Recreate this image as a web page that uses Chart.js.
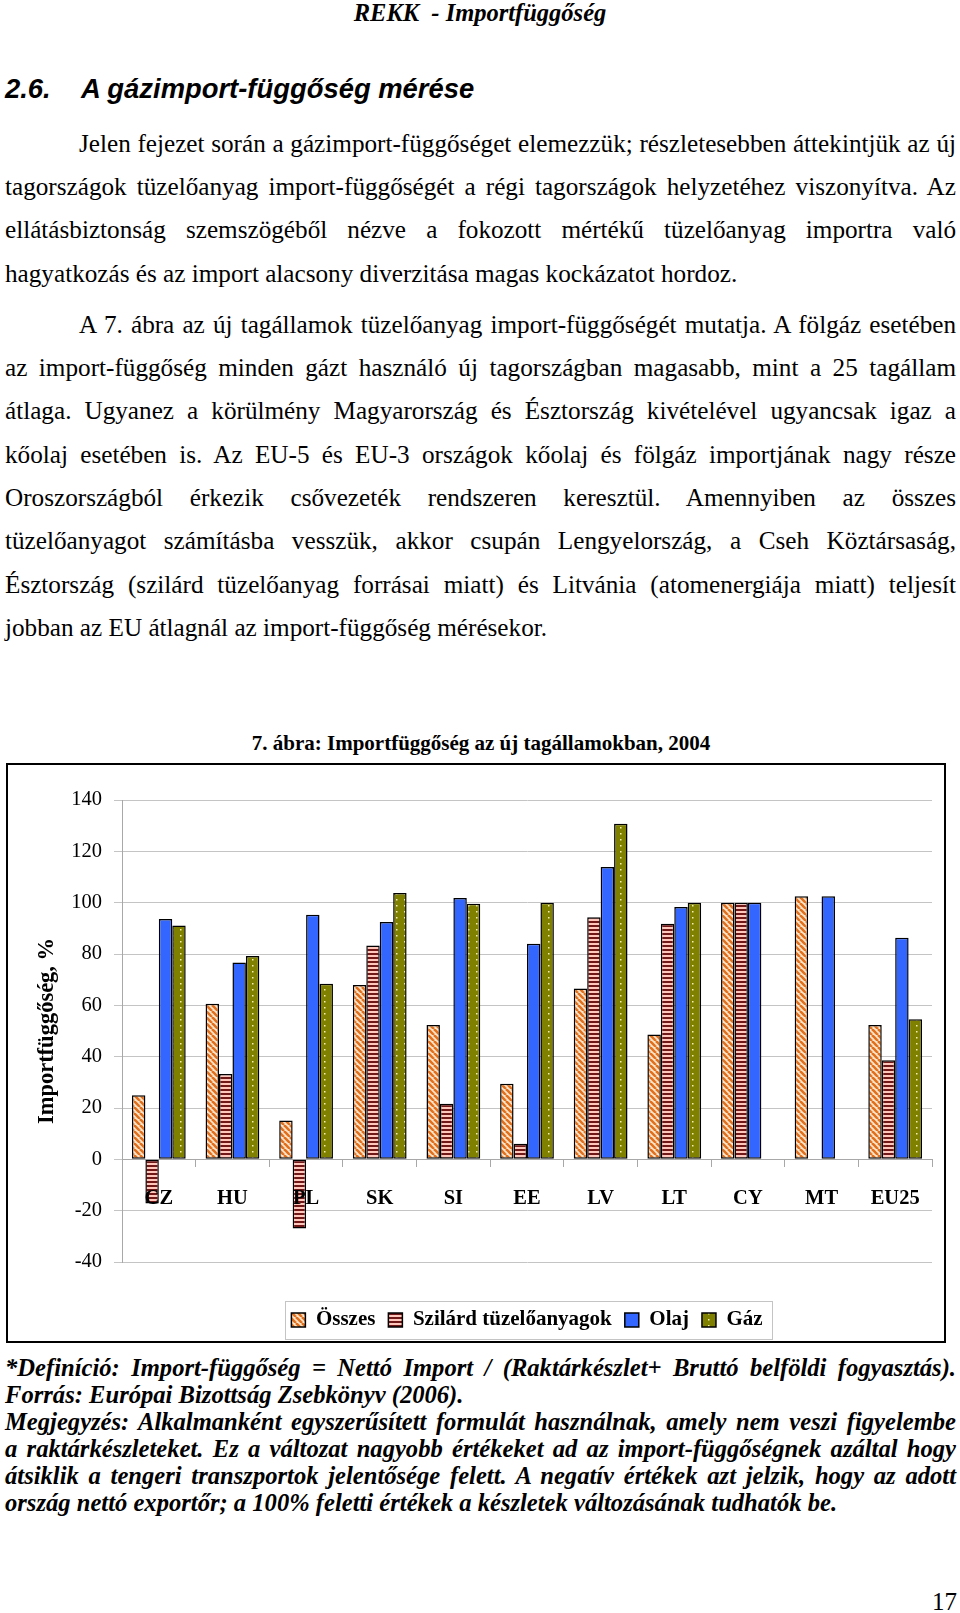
<!DOCTYPE html>
<html>
<head>
<meta charset="utf-8">
<script src="https://cdn.jsdelivr.net/npm/chart.js@4.4.1/dist/chart.umd.min.js"></script>
<style>
html, body { margin: 0; padding: 0; background: #fff; }
body { width: 960px; height: 1613px; position: relative; overflow: hidden; font-family: "Liberation Serif", "Times New Roman", serif; color: #000; }
.abs { position: absolute; }
#hdr { left: 0; width: 960px; top: 1px; text-align: center; font: italic bold 24.5px/24px "Liberation Serif"; }
#h2 { left: 5px; top: 75px; width: 600px; font: italic bold 27.4px/27px "Liberation Sans"; white-space: nowrap; }
#h2 .t { position: absolute; left: 76px; top: 0; }
.par { left: 5px; width: 951px; font-size: 25.2px; line-height: 43.33px; }
.ln { text-align: justify; text-align-last: justify; }
.ln.last { text-align-last: left; }
.ln.ind { padding-left: 74px; }
#cap { left: 0; width: 962px; top: 733px; text-align: center; font: bold 21px/21px "Liberation Serif"; }
#box { left: 6px; top: 763px; width: 940px; height: 580px; border: 2.5px solid #000; box-sizing: border-box; }
#wrap { left: 8px; top: 765px; width: 936px; height: 576px; }
#notes { left: 5px; width: 951px; top: 1354px; font: italic bold 24.6px/27px "Liberation Serif"; }
#pg { right: 3px; top: 1589px; font: 25px/25px "Liberation Serif"; }
</style>
</head>
<body>
<div id="hdr" class="abs">REKK&nbsp; - Importfüggőség</div>
<div id="h2" class="abs">2.6.<span class="t">A gázimport-függőség mérése</span></div>

<div class="abs par" style="top:121.6px">
  <div class="ln ind"><span>Jelen fejezet során a gázimport-függőséget elemezzük; részletesebben áttekintjük az új</span></div>
  <div class="ln"><span>tagországok tüzelőanyag import-függőségét a régi tagországok helyzetéhez viszonyítva. Az</span></div>
  <div class="ln"><span>ellátásbiztonság szemszögéből nézve a fokozott mértékű tüzelőanyag importra való</span></div>
  <div class="ln last"><span>hagyatkozás és az import alacsony diverzitása magas kockázatot hordoz.</span></div>
</div>

<div class="abs par" style="top:302.6px">
  <div class="ln ind"><span>A 7. ábra az új tagállamok tüzelőanyag import-függőségét mutatja. A fölgáz esetében</span></div>
  <div class="ln"><span>az import-függőség minden gázt használó új tagországban magasabb, mint a 25 tagállam</span></div>
  <div class="ln"><span>átlaga. Ugyanez a körülmény Magyarország és Észtország kivételével ugyancsak igaz a</span></div>
  <div class="ln"><span>kőolaj esetében is. Az EU-5 és EU-3 országok kőolaj és fölgáz importjának nagy része</span></div>
  <div class="ln"><span>Oroszországból érkezik csővezeték rendszeren keresztül. Amennyiben az összes</span></div>
  <div class="ln"><span>tüzelőanyagot számításba vesszük, akkor csupán Lengyelország, a Cseh Köztársaság,</span></div>
  <div class="ln"><span>Észtország (szilárd tüzelőanyag forrásai miatt) és Litvánia (atomenergiája miatt) teljesít</span></div>
  <div class="ln last"><span>jobban az EU átlagnál az import-függőség mérésekor.</span></div>
</div>

<div id="cap" class="abs">7. ábra: Importfüggőség az új tagállamokban, 2004</div>
<div id="box" class="abs"></div>
<div id="wrap" class="abs"><canvas id="chart"></canvas></div>

<div id="notes" class="abs">
  <div class="ln"><span>*Definíció: Import-függőség = Nettó Import / (Raktárkészlet+ Bruttó belföldi fogyasztás).</span></div>
  <div class="ln last"><span>Forrás: Európai Bizottság Zsebkönyv (2006).</span></div>
  <div class="ln"><span>Megjegyzés: Alkalmanként egyszerűsített formulát használnak, amely nem veszi figyelembe</span></div>
  <div class="ln"><span>a raktárkészleteket. Ez a változat nagyobb értékeket ad az import-függőségnek azáltal hogy</span></div>
  <div class="ln"><span>átsiklik a tengeri transzportok jelentősége felett. A negatív értékek azt jelzik, hogy az adott</span></div>
  <div class="ln last"><span>ország nettó exportőr; a 100% feletti értékek a készletek változásának tudhatók be.</span></div>
</div>
<div id="pg" class="abs">17</div>

<script>
// ---- data ----
const categories = ['CZ', 'HU', 'PL', 'SK', 'SI', 'EE', 'LV', 'LT', 'CY', 'MT', 'EU25'];
const seriesNames = ['Összes', 'Szilárd tüzelőanyagok', 'Olaj', 'Gáz'];
const osszes  = [25, 60.6, 15.1, 67.9, 52.3, 29.4, 66.6, 48.6, 100, 102.5, 52.3];
const szilard = [-17.2, 33.2, -26.9, 83.3, 21.7, 6.1, 94.3, 91.8, 100, null, 38.6];
const olaj    = [93.6, 76.7, 95.3, 92.5, 101.8, 84, 113.9, 98.3, 100, 102.5, 86.3];
const gaz     = [91.1, 79.2, 68.4, 103.8, 99.6, 100, 130.7, 100, null, null, 54.6];
const yMin = -40, yMax = 140, yStep = 20;

// fit justified text lines: shrink a line only if it would wrap
document.querySelectorAll('.ln').forEach(el => {
  const span = el.querySelector('span');
  span.style.whiteSpace = 'nowrap';
  const avail = el.clientWidth - parseFloat(getComputedStyle(el).paddingLeft);
  const w = span.getBoundingClientRect().width;
  if (w > avail) {
    const fs = parseFloat(getComputedStyle(el).fontSize);
    el.style.fontSize = (fs * avail / w * 0.997) + 'px';
  }
  span.style.whiteSpace = '';
});

// ---- fill patterns ----
function makePattern(w, h, draw) {
  const c = document.createElement('canvas');
  c.width = w; c.height = h;
  const g = c.getContext('2d');
  draw(g);
  return g.createPattern(c, 'repeat');
}
const diagOrange = makePattern(6, 6, g => {
  g.fillStyle = '#ffe6cc'; g.fillRect(0, 0, 6, 6);
  g.strokeStyle = '#e0701e'; g.lineWidth = 2.6;
  [-6, 0, 6].forEach(k => { g.beginPath(); g.moveTo(k, 0); g.lineTo(k + 6, 6); g.stroke(); });
});
const horizMaroon = makePattern(4, 4, g => {
  g.fillStyle = '#ffc6bb'; g.fillRect(0, 0, 4, 4);
  g.fillStyle = '#701818'; g.fillRect(0, 0, 4, 2);
});
const dotsOlive = makePattern(8, 6, g => {
  g.fillStyle = '#808000'; g.fillRect(0, 0, 8, 6);
  g.fillStyle = '#f4f0b0'; g.fillRect(4, 2, 1.5, 1.5);
});

Chart.defaults.font.family = '"Liberation Serif", "Times New Roman", serif';
Chart.defaults.color = '#000';

// light frame around the legend row, like the Excel legend box
const legendBox = {
  id: 'legendBox',
  afterDraw(chart) {
    const hb = chart.legend.legendHitBoxes;
    if (!hb || !hb.length) return;
    const minX = Math.min(...hb.map(b => b.left));
    const maxX = Math.max(...hb.map(b => b.left + b.width));
    const cy = hb[0].top + hb[0].height / 2;
    const ctx = chart.ctx;
    ctx.save();
    ctx.strokeStyle = '#c4c4c4';
    ctx.lineWidth = 1;
    ctx.strokeRect(Math.round(minX - 6) + 0.5, Math.round(cy - 19) + 0.5, Math.round(maxX - minX + 16), 38);
    ctx.restore();
  }
};

const fills = [diagOrange, horizMaroon, '#3366ff', dotsOlive];
const values = [osszes, szilard, olaj, gaz];

new Chart(document.getElementById('chart'), {
  type: 'bar',
  data: {
    labels: categories,
    datasets: seriesNames.map((name, i) => ({
      label: name,
      data: values[i],
      backgroundColor: fills[i],
      borderColor: '#000',
      borderWidth: 1.5,
      borderSkipped: false,
      barPercentage: 1,
      categoryPercentage: 0.73
    }))
  },
  options: {
    responsive: true,
    maintainAspectRatio: false,
    animation: false,
    devicePixelRatio: 1,
    layout: { padding: { top: 35, right: 12, bottom: 0.5, left: 0 } },
    scales: {
      x: {
        position: { y: 0 },
        afterFit: s => { s.height = 0; },
        grid: { drawOnChartArea: false, drawTicks: true, tickLength: 7, color: '#a8a8a8' },
        border: { display: true, color: '#a8a8a8', width: 1 },
        ticks: { z: 1, padding: 20, color: '#000', font: { size: 20.5, weight: 'bold' } }
      },
      y: {
        min: yMin, max: yMax,
        afterFit: s => { s.width = 114; },
        ticks: { stepSize: yStep, padding: 12, color: '#000', font: { size: 20.5 } },
        grid: { color: '#c4c4c4', tickLength: 8 },
        border: { display: true, color: '#a8a8a8' },
        title: {
          display: true, text: 'Importfüggőség, %', color: '#000',
          font: { size: 22.5, weight: 'bold' }, padding: { top: 25.5, bottom: 0 }
        }
      }
    },
    plugins: {
      legend: {
        position: 'bottom',
        fullSize: false,
        title: { display: true, text: '', font: { size: 1 }, padding: { top: 33.3, bottom: 0 } },
        labels: { boxWidth: 14, boxHeight: 14, padding: 13, color: '#000', font: { size: 21, weight: 'bold' } }
      },
      tooltip: { enabled: false }
    }
  },
  plugins: [legendBox]
});
</script>
</body>
</html>
